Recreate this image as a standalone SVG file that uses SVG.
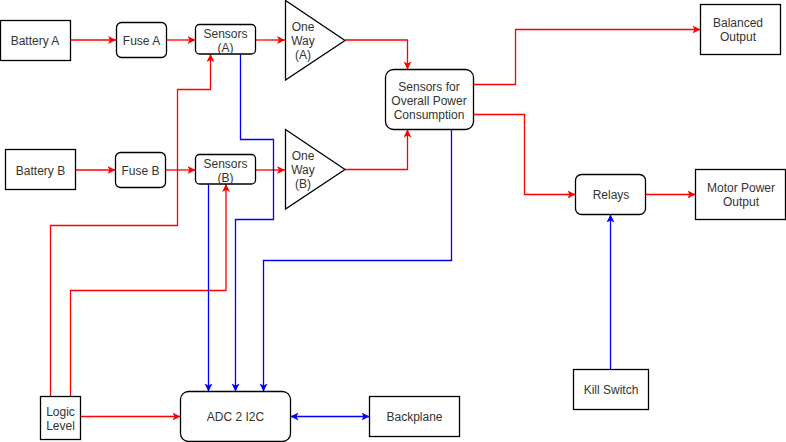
<svg xmlns="http://www.w3.org/2000/svg" width="786" height="442" viewBox="0 0 786 442">
<style>
.n{fill:#fff;stroke:#000;stroke-width:1.3}
.t{font-family:"Liberation Sans",Arial,sans-serif;font-size:12px;fill:#333;text-anchor:middle}
.r{fill:none;stroke:#ff0000;stroke-width:1.3}
.b{fill:none;stroke:#0000ff;stroke-width:1.3}
</style>
<defs>
<marker id="ar" markerUnits="userSpaceOnUse" markerWidth="12" markerHeight="12" refX="8" refY="4" orient="auto-start-reverse" viewBox="0 0 12 12"><path d="M0,0 L8,4 L0,8 L2,4 Z" fill="#ff0000"/></marker>
<marker id="ab" markerUnits="userSpaceOnUse" markerWidth="12" markerHeight="12" refX="8" refY="4" orient="auto-start-reverse" viewBox="0 0 12 12"><path d="M0,0 L8,4 L0,8 L2,4 Z" fill="#0000ff"/></marker>
</defs>
<g id="connectors">
<path class="r" d="M70,40 H116" marker-end="url(#ar)"/>
<path class="r" d="M166.5,40 H195.5" marker-end="url(#ar)"/>
<path class="r" d="M255.5,40 H285" marker-end="url(#ar)"/>
<path class="r" d="M75.5,170 H115.5" marker-end="url(#ar)"/>
<path class="r" d="M165.5,170 H195.5" marker-end="url(#ar)"/>
<path class="r" d="M255.5,170 H285" marker-end="url(#ar)"/>
<path class="r" d="M345,40 H407.5 V69.5" marker-end="url(#ar)"/>
<path class="r" d="M345,169.5 H407.5 V129.5" marker-end="url(#ar)"/>
<path class="r" d="M473.5,84.5 H515.5 V29.5 H700.5" marker-end="url(#ar)"/>
<path class="r" d="M473.5,114.5 H524.5 V194.5 H575.5" marker-end="url(#ar)"/>
<path class="r" d="M645.5,194.5 H695.5" marker-end="url(#ar)"/>
<path class="r" d="M50.5,396.5 V225.5 H177.5 V89.5 H210.5 V54" marker-end="url(#ar)"/>
<path class="r" d="M70.5,396.5 V290.5 H226 V184" marker-end="url(#ar)"/>
<path class="r" d="M80.5,416.5 H180.5" marker-end="url(#ar)"/>
<path class="b" d="M240.5,54 V139.5 H273.5 V219.5 H235.5 V391.5" marker-end="url(#ab)"/>
<path class="b" d="M208.5,184 V391.5" marker-end="url(#ab)"/>
<path class="b" d="M451.5,129.5 V260.5 H263.5 V391.5" marker-end="url(#ab)"/>
<path class="b" d="M290.5,416.5 H369.5" marker-start="url(#ab)" marker-end="url(#ab)"/>
<path class="b" d="M610.5,369.5 V214.5" marker-end="url(#ab)"/>
</g>
<g id="batteryA"><rect class="n" x="0.5" y="20.5" width="70" height="40"/><text class="t" x="35" y="44.5">Battery A</text></g>
<g id="fuseA"><rect class="n" x="116.5" y="22.5" width="50" height="35" rx="5"/><text class="t" x="141.5" y="44.5">Fuse A</text></g>
<g id="sensorsA"><rect class="n" x="195.5" y="24.5" width="60" height="29.5" rx="4"/><text class="t" x="225.5" y="37.5">Sensors</text><text class="t" x="225.5" y="51.5">(A)</text></g>
<g id="onewayA"><path class="n" d="M285.5,0.5 L345,40.5 L285.5,80 Z"/><text class="t" x="303" y="31">One</text><text class="t" x="303" y="45">Way</text><text class="t" x="303" y="59">(A)</text></g>
<g id="batteryB"><rect class="n" x="5.5" y="149.5" width="70" height="40"/><text class="t" x="40.5" y="174.5">Battery B</text></g>
<g id="fuseB"><rect class="n" x="115.5" y="152.5" width="50" height="35" rx="5"/><text class="t" x="140.5" y="174.5">Fuse B</text></g>
<g id="sensorsB"><rect class="n" x="195.5" y="154.5" width="60" height="29.5" rx="4"/><text class="t" x="225.5" y="167.5">Sensors</text><text class="t" x="225.5" y="181.5">(B)</text></g>
<g id="onewayB"><path class="n" d="M285.5,129.5 L345,169.5 L285.5,209 Z"/><text class="t" x="303" y="160">One</text><text class="t" x="303" y="174">Way</text><text class="t" x="303" y="188">(B)</text></g>
<g id="sensorsOverall"><rect class="n" x="385.5" y="69.5" width="88" height="60" rx="8"/><text class="t" x="429" y="90.5">Sensors for</text><text class="t" x="429" y="104.5">Overall Power</text><text class="t" x="429" y="118.5">Consumption</text></g>
<g id="balancedOutput"><rect class="n" x="700.5" y="4.5" width="80" height="50"/><text class="t" x="738" y="27">Balanced</text><text class="t" x="738" y="41">Output</text></g>
<g id="relays"><rect class="n" x="575.5" y="174.5" width="70" height="40" rx="6"/><text class="t" x="611" y="198.5">Relays</text></g>
<g id="motorPowerOutput"><rect class="n" x="695.5" y="169.5" width="90" height="50"/><text class="t" x="741" y="192">Motor Power</text><text class="t" x="741" y="206">Output</text></g>
<g id="killSwitch"><rect class="n" x="573.5" y="369.5" width="75" height="40"/><text class="t" x="611" y="394">Kill Switch</text></g>
<g id="logicLevel"><rect class="n" x="40.5" y="396.5" width="40" height="43"/><text class="t" x="60.5" y="416">Logic</text><text class="t" x="60.5" y="430">Level</text></g>
<g id="adc"><rect class="n" x="180.5" y="391.5" width="110" height="50" rx="8"/><text class="t" x="235.5" y="420.5">ADC 2 I2C</text></g>
<g id="backplane"><rect class="n" x="369.5" y="396.5" width="90" height="40"/><text class="t" x="414.5" y="420.5">Backplane</text></g>
</svg>
